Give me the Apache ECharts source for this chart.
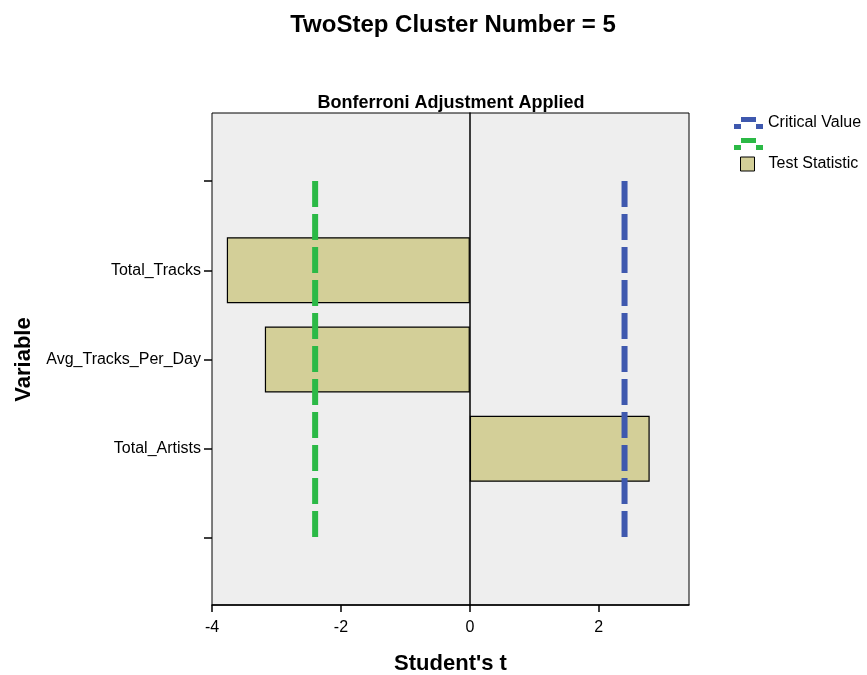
<!DOCTYPE html>
<html>
<head>
<meta charset="utf-8">
<script src="https://cdn.jsdelivr.net/npm/echarts@6/dist/echarts.min.js"></script>
<style>
html,body{margin:0;padding:0;background:#fff;}
#chart{width:867px;height:675px;}
</style>
</head>
<body>
<div id="chart"></div>
<script>
// Data
var categories = ['', 'Total_Tracks', 'Avg_Tracks_Per_Day', 'Total_Artists', ''];
var testStatistic = [null, -3.77, -3.18, 2.79, null];
var criticalUpper = [2.40, 2.40, 2.40, 2.40, 2.40];
var criticalLower = [-2.40, -2.40, -2.40, -2.40, -2.40];
var xTicks = [-4, -2, 0, 2];

var FONT = "'Liberation Sans', Arial, sans-serif";
var BLUE = '#3e58ae';
var GREEN = '#2bb946';
var BAR = '#d3cf98';
var DASH_ICON = 'path://M7,0H22V5H7Z M0,7H7V12H0Z M22,7H29V12H22Z';

var chart = echarts.init(document.getElementById('chart'), null, {renderer: 'canvas'});
var option = {
  backgroundColor: '#ffffff',
  animation: false,
  textStyle: {fontFamily: FONT},
  title: [
    {text: 'TwoStep Cluster Number = 5', left: 448, top: 8, textAlign: 'center',
     textStyle: {fontFamily: FONT, fontSize: 24, fontWeight: 'bold', color: '#000'}},
    {text: 'Bonferroni Adjustment Applied', left: 446, top: 89, textAlign: 'center',
     textStyle: {fontFamily: FONT, fontSize: 18, fontWeight: 'bold', color: '#000'}}
  ],
  legend: [
    {orient: 'vertical', left: 734, top: 115, padding: 0, itemWidth: 29, itemHeight: 12, itemGap: 5,
     textStyle: {fontFamily: FONT, fontSize: 16, color: '#000'},
     selectedMode: false,
     data: [
       {name: 'Critical Value', icon: DASH_ICON, itemStyle: {color: BLUE, borderWidth: 0}},
       {name: ' ', icon: DASH_ICON, itemStyle: {color: GREEN, borderWidth: 0}}
     ]},
    {orient: 'vertical', left: 740, top: 156, padding: 0, itemWidth: 14, itemHeight: 14,
     textStyle: {fontFamily: FONT, fontSize: 16, color: '#000', padding: [0, 0, 0, 9]},
     selectedMode: false,
     data: [
       {name: 'Test Statistic', icon: 'path://M0,0H10V10H0Z',
        itemStyle: {color: BAR, borderColor: '#000', borderWidth: 1}}
     ]}
  ],
  grid: [
    {left: 212, top: 113, width: 477, height: 492, show: true, backgroundColor: '#eeeeee',
     borderColor: '#000', borderWidth: 1, containLabel: false, outerBoundsMode: 'none'},
    {left: 212, top: 181, width: 477, height: 357, containLabel: false, outerBoundsMode: 'none'}
  ],
  xAxis: [
    {gridIndex: 0, type: 'value', min: -4, max: 3.4, interval: 2,
     axisLine: {show: true, onZero: false, lineStyle: {color: '#000', width: 1.5}},
     axisTick: {show: true, inside: false, length: 7, lineStyle: {color: '#000', width: 1.5}},
     axisLabel: {color: '#000', fontSize: 16, fontFamily: FONT, margin: 15,
       showMaxLabel: false,
       formatter: function (v) { return xTicks.indexOf(v) >= 0 ? String(v) : ''; }},
     splitLine: {show: false},
     name: "Student's t", nameLocation: 'middle', nameGap: 48,
     nameTextStyle: {fontFamily: FONT, fontSize: 22, fontWeight: 'bold', color: '#000'}},
    {gridIndex: 1, type: 'value', min: -4, max: 3.4, show: false}
  ],
  yAxis: [
    {gridIndex: 0, type: 'value', min: 0, max: 1,
     axisLine: {show: true, onZero: true, lineStyle: {color: '#000', width: 1.5}},
     axisTick: {show: false}, axisLabel: {show: false}, splitLine: {show: false}},
    {gridIndex: 1, type: 'category', data: categories, inverse: true, boundaryGap: false,
     axisLine: {show: false, onZero: false},
     axisTick: {show: true, inside: false, length: 8, lineStyle: {color: '#000', width: 1.5}},
     axisLabel: {color: '#000', fontSize: 16, fontFamily: FONT, margin: 11, interval: 0},
     splitLine: {show: false},
     name: 'Variable', nameLocation: 'middle', nameGap: 177, nameRotate: 90,
     nameTextStyle: {fontFamily: FONT, fontSize: 22, fontWeight: 'bold', color: '#000'}}
  ],
  series: [
    {name: 'Test Statistic', type: 'bar', xAxisIndex: 1, yAxisIndex: 1, data: testStatistic,
     barWidth: 66, z: 2,
     itemStyle: {color: BAR, borderColor: '#000', borderWidth: 1.2}},
    {name: 'Critical Value', type: 'line', xAxisIndex: 1, yAxisIndex: 1, data: criticalUpper,
     showSymbol: false, symbol: 'none', z: 3,
     itemStyle: {color: BLUE, borderWidth: 0},
     lineStyle: {color: BLUE, width: 6, type: [26, 7], cap: 'butt'}},
    {name: ' ', type: 'line', xAxisIndex: 1, yAxisIndex: 1, data: criticalLower,
     showSymbol: false, symbol: 'none', z: 3,
     itemStyle: {color: GREEN, borderWidth: 0},
     lineStyle: {color: GREEN, width: 6, type: [26, 7], cap: 'butt'}}
  ]
};
chart.setOption(option);
</script>
</body>
</html>
